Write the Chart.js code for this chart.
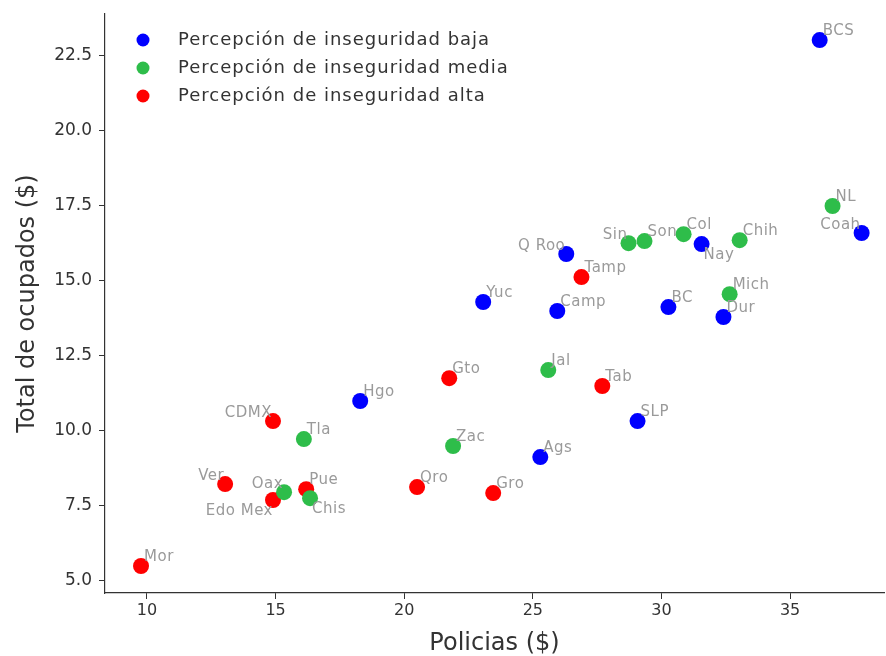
<!DOCTYPE html>
<html><head><meta charset="utf-8">
<script src="https://cdn.jsdelivr.net/npm/chart.js@4.4.1/dist/chart.umd.min.js"></script>
<style>html,body{margin:0;padding:0;background:#fff}#wrap{width:886px;height:656px}</style>
</head><body><div id="wrap"><canvas id="c" width="886" height="656"></canvas></div>
<script>
const seriesNames = ['Percepción de inseguridad baja', 'Percepción de inseguridad media', 'Percepción de inseguridad alta'];

const bajaStates = ['BCS','Coah','Nay','Q Roo','Yuc','Camp','BC','Dur','Hgo','SLP','Ags'];
const bajaX = [36.15, 37.78, 31.56, 26.3, 23.07, 25.95, 30.27, 32.41, 18.29, 29.07, 25.29];
const bajaY = [23.0, 16.57, 16.2, 15.87, 14.27, 13.97, 14.1, 13.77, 10.97, 10.3, 9.1];

const mediaStates = ['NL','Sin','Son','Col','Chih','Mich','Jal','Zac','Tla','Oax','Chis'];
const mediaX = [36.65, 28.72, 29.34, 30.86, 33.04, 32.65, 25.6, 21.9, 16.1, 15.33, 16.34];
const mediaY = [17.47, 16.23, 16.3, 16.53, 16.33, 14.53, 12.0, 9.47, 9.7, 7.93, 7.73];

const altaStates = ['Tamp','Gto','Tab','CDMX','Ver','Edo Mex','Pue','Qro','Gro','Mor'];
const altaX = [26.89, 21.75, 27.7, 14.9, 13.04, 14.9, 16.19, 20.5, 23.46, 9.77];
const altaY = [15.1, 11.73, 11.47, 10.3, 8.2, 7.67, 8.03, 8.1, 7.9, 5.47];

const xTicks = [10, 15, 20, 25, 30, 35];
const yTicks = [5.0, 7.5, 10.0, 12.5, 15.0, 17.5, 20.0, 22.5];

const xTitle = 'Policias ($)';
const yTitle = 'Total de ocupados ($)';

const colors = ['#0000ff', '#2ebd4a', '#ff0000'];
const FONT = "'DejaVu Sans', sans-serif";

function pts(xs, ys) { return xs.map((x, i) => ({x: x, y: ys[i]})); }

const allStates = [bajaStates, mediaStates, altaStates];

const leftTop = new Set(['Q Roo','Sin','Coah','CDMX','Ver','Oax']);
const belowRight = new Set(['Nay','Chis']);
const belowLeft = new Set(['Edo Mex']);

const labelPlugin = {
  id: 'pointLabels',
  afterDatasetsDraw(chart) {
    const ctx = chart.ctx;
    ctx.save();
    ctx.font = '15px ' + FONT;
    ctx.letterSpacing = '0.5px';
    ctx.fillStyle = '#9a9a9a';
    ctx.textBaseline = 'alphabetic';
    chart.data.datasets.forEach((ds, di) => {
      const meta = chart.getDatasetMeta(di);
      meta.data.forEach((el, i) => {
        const name = allStates[di][i];
        const px = el.x, py = el.y;
        if (leftTop.has(name)) {
          ctx.textAlign = 'right'; ctx.fillText(name, px - 1, py - 4);
        } else if (belowRight.has(name)) {
          ctx.textAlign = 'left'; ctx.fillText(name, px + 2, py + 15);
        } else if (belowLeft.has(name)) {
          ctx.textAlign = 'right'; ctx.fillText(name, px, py + 15);
        } else {
          ctx.textAlign = 'left'; ctx.fillText(name, px + 3, py - 5);
        }
      });
    });
    ctx.restore();
  }
};

const legendPlugin = {
  id: 'customLegend',
  afterDraw(chart) {
    const ctx = chart.ctx;
    const ca = chart.chartArea;
    ctx.save();
    ctx.font = '18px ' + FONT;
    ctx.letterSpacing = '1px';
    ctx.textBaseline = 'middle';
    ctx.textAlign = 'left';
    chart.data.datasets.forEach((ds, i) => {
      const cy = ca.top + 26 + i * 28;
      const cx = ca.left + 38;
      ctx.beginPath();
      ctx.fillStyle = ds.backgroundColor;
      ctx.arc(cx, cy, 6.5, 0, Math.PI * 2);
      ctx.fill();
      ctx.fillStyle = '#333333';
      ctx.fillText(ds.label, cx + 35, cy);
    });
    ctx.restore();
  }
};

const tickSetter = (arr) => (scale) => { scale.ticks = arr.map(v => ({value: v})); };

new Chart(document.getElementById('c'), {
  type: 'scatter',
  data: {
    datasets: [
      {label: seriesNames[0], data: pts(bajaX, bajaY), backgroundColor: colors[0]},
      {label: seriesNames[1], data: pts(mediaX, mediaY), backgroundColor: colors[1]},
      {label: seriesNames[2], data: pts(altaX, altaY), backgroundColor: colors[2]}
    ].map(d => Object.assign(d, {pointRadius: 8, pointHoverRadius: 8, borderWidth: 0, borderColor: d.backgroundColor}))
  },
  options: {
    responsive: false,
    animation: false,
    layout: {autoPadding: false, padding: {top: 14, right: 2, left: 0, bottom: 0}},
    plugins: {legend: {display: false}, tooltip: {enabled: false}},
    scales: {
      x: {
        type: 'linear', min: 8.37, max: 38.65,
        afterBuildTicks: tickSetter(xTicks),
        afterFit: (s) => { s.height = 63; s.paddingLeft = 0; s.paddingRight = 0; },
        ticks: {font: {family: FONT, size: 16}, color: '#333333', padding: 2, callback: v => String(v), maxRotation: 0},
        grid: {drawOnChartArea: false, drawTicks: true, tickLength: 6, color: '#333333'},
        border: {display: true, color: '#333333', width: 1.2},
        title: {display: true, text: xTitle, font: {family: FONT, size: 24}, color: '#333333', padding: {top: 0, bottom: -2}}
      },
      y: {
        type: 'linear', min: 4.57, max: 23.87,
        afterBuildTicks: tickSetter(yTicks),
        afterFit: (s) => { s.width = 105; s.paddingTop = 0; s.paddingBottom = 0; },
        ticks: {font: {family: FONT, size: 17}, color: '#333333', padding: 7, callback: v => v.toFixed(1)},
        grid: {drawOnChartArea: false, drawTicks: true, tickLength: 6, color: '#333333'},
        border: {display: true, color: '#333333', width: 1.2},
        title: {display: true, text: yTitle, font: {family: FONT, size: 24}, color: '#333333', padding: {top: 13, bottom: 2}}
      }
    }
  },
  plugins: [labelPlugin, legendPlugin]
});
</script>
</body></html>
